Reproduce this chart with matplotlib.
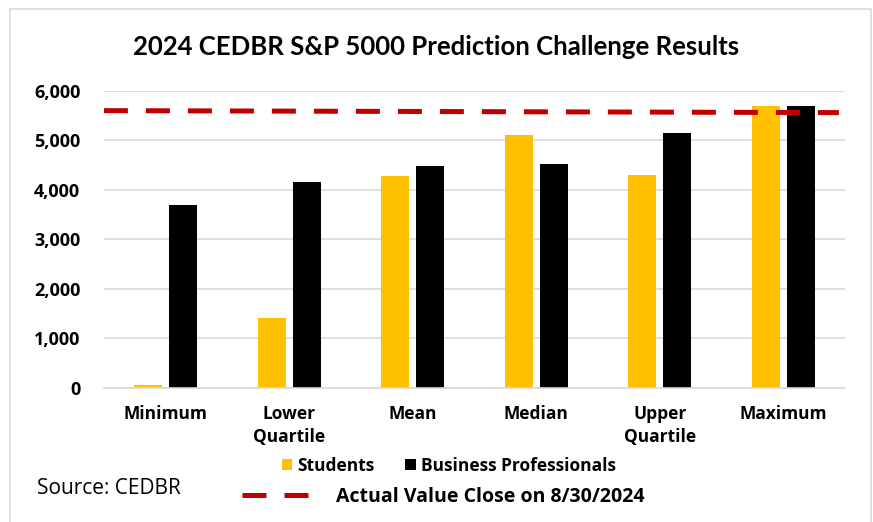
import numpy as np
import matplotlib.pyplot as plt
from matplotlib.patches import Rectangle

plt.rcParams['font.family'] = ['Open Sans', 'DejaVu Sans']

categories = ['Minimum', 'Lower\nQuartile', 'Mean', 'Median', 'Upper\nQuartile', 'Maximum']
students = [50, 1410, 4270, 5100, 4300, 5690]
professionals = [3690, 4165, 4485, 4520, 5145, 5690]
actual_close = [5600, 5560]   # red dashed reference line, left to right
yticks = [0, 1000, 2000, 3000, 4000, 5000, 6000]

fig = plt.figure(figsize=(8.73, 5.22), dpi=100)
ax = fig.add_axes([0.119, 0.257, 0.849, 0.569])

x = np.arange(len(categories))
w = 0.227
off = 0.142
ax.bar(x - off, students, w, color='#FFC000', label='Students', zorder=2)
ax.bar(x + off, professionals, w, color='#000000', label='Business Professionals', zorder=2)
ax.plot([-0.5, 5.45], actual_close, color='#C00000', lw=3.6,
        dashes=(4.8, 3.6), dash_capstyle='butt', zorder=3,
        label='Actual Value Close on 8/30/2024')

ax.set_xlim(-0.5, 5.5)
ax.set_ylim(0, 6000)
ax.set_yticks(yticks)
ax.set_yticklabels([f'{v:,}' for v in yticks], fontsize=13, fontweight='bold')
ax.set_xticks(x)
ax.set_xticklabels(categories, fontsize=12.5, fontweight='bold', linespacing=1.4,
                   va='top')
ax.tick_params(axis='both', length=0)
ax.tick_params(axis='y', pad=17)
ax.tick_params(axis='x', pad=12)
ax.grid(axis='y', color='#d9d9d9', lw=1.2, zorder=0)
for s in ['top', 'right', 'left']:
    ax.spines[s].set_visible(False)
ax.spines['bottom'].set_color('#d9d9d9')
ax.spines['bottom'].set_linewidth(1.2)

fig.text(0.5, 1 - 47 / 522, '2024 CEDBR S&P 5000 Prediction Challenge Results',
         ha='center', va='center', fontsize=18.5, fontweight='bold', family=['Lato', 'DejaVu Sans'])

h, l = ax.get_legend_handles_labels()
fig.legend(h[1:], l[1:], loc='center', bbox_to_anchor=(449 / 873, 1 - 466 / 522),
           ncol=2, frameon=False, handlelength=0.6, handleheight=0.6,
           handletextpad=0.3, columnspacing=1.75,
           prop={'size': 12.5, 'weight': 'bold'})
fig.legend([h[0]], [l[0]], loc='center', bbox_to_anchor=(443 / 873, 1 - 497 / 522),
           frameon=False, handlelength=3.5, handletextpad=1.35,
           prop={'size': 14, 'weight': 'bold'})

fig.text(37 / 873, 1 - 488 / 522, 'Source: CEDBR', ha='left', va='center', fontsize=15)

fig.patches.append(Rectangle((10 / 873, -0.05), 861 / 873, 1.05 - 9 / 522,
                             transform=fig.transFigure, fill=False,
                             edgecolor='#d9d9d9', lw=1.2))

fig.savefig('out.png', dpi=100)
